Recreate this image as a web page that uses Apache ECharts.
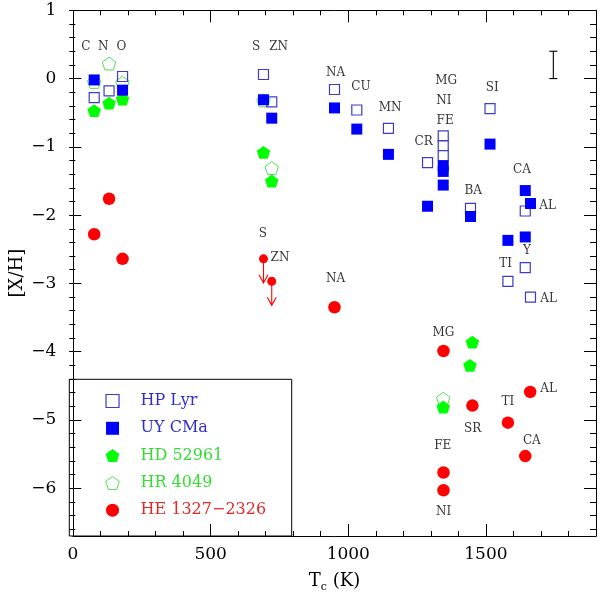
<!DOCTYPE html>
<html><head><meta charset="utf-8">
<script src="https://cdn.jsdelivr.net/npm/echarts@6/dist/echarts.min.js"></script>
<style>html,body{margin:0;padding:0;background:#fff}#c{width:600px;height:598px}</style>
</head><body><div id="c"></div>
<script>
// ---------------- data ----------------
// [Tc (K), [X/H]]
const hpLyr = [[77,-0.28],[131,-0.18],[180,0.03],[692,0.06],[722,-0.34],[950,-0.16],[1031,-0.46],[1146,-0.73],[1288,-1.23],[1345,-0.84],[1345,-0.98],[1345,-1.13],[1515,-0.44],[1444,-1.90],[1643,-1.94],[1662,-3.20],[1643,-2.77],[1580,-2.97]];
const uyCMa = [[77,-0.02],[180,-0.17],[692,-0.31],[722,-0.58],[950,-0.43],[1031,-0.74],[1146,-1.11],[1288,-1.87],[1345,-1.28],[1345,-1.36],[1345,-1.56],[1515,-0.96],[1444,-2.02],[1643,-1.64],[1662,-1.83],[1580,-2.37],[1643,-2.32]];
const hd52961 = [[77,-0.47],[131,-0.36],[180,-0.30],[692,-1.08],[722,-1.50],[1451,-3.86],[1442,-4.20],[1345,-4.81]];
const hr4049 = [[77,-0.05],[131,0.22],[180,-0.06],[692,-0.32],[722,-1.31],[1345,-4.69]];
const he1327 = [[77,-2.28],[131,-1.76],[180,-2.64],[950,-3.35],[1346,-3.99],[1451,-4.79],[1661,-4.59],[1580,-5.04],[1643,-5.53],[1346,-5.77],[1346,-6.03]];
const he1327Limits = [[692,-2.64],[722,-2.97]];   // upper limits (arrows)
const errorBar = [[1745,0.0,0.4]];               // [Tc, low, high]

const labelTexts = ['C','N','O','S','ZN','S','ZN','NA','CU','MN','MG','NI','FE','CR','SI','BA','CA','AL','Y','TI','AL','NA','MG','AL','TI','SR','CA','FE','NI'];
const labelTc    = [47,110,176,665,747,690,752,954,1046,1152,1356,1347,1352,1274,1523,1454,1631,1724,1649,1572,1728,954,1346,1728,1580,1452,1667,1343,1346];
const labelXH    = [0.47,0.47,0.47,0.47,0.47,-2.28,-2.63,0.08,-0.12,-0.43,-0.03,-0.33,-0.62,-0.93,-0.13,-1.64,-1.33,-1.86,-2.52,-2.72,-3.23,-2.93,-3.73,-4.54,-4.74,-5.13,-5.30,-5.38,-6.34];

const seriesNames = ['HP Lyr','UY CMa','HD 52961','HR 4049','HE 1327\u22122326'];
const xTickLabels = [0,500,1000,1500];
const yTickLabels = [1,0,-1,-2,-3,-4,-5,-6];

// ---------------- layout / style ----------------
const FONT = 'DejaVu Serif';
const W = 600, H = 598;
const G = {left:69.3, right:4, top:10.3, bottom:62};
const X_MIN = 0, X_MAX = 1900, Y_MIN = -6.7, Y_MAX = 1;
const pxPerY = (H - G.top - G.bottom) / (Y_MAX - Y_MIN);
function subGrid(yLow){ return {left:G.left, right:G.right, top:G.top, bottom:G.bottom + (yLow - Y_MIN)*pxPerY}; }

const SQUARE = 'path://M0,0L1,0L1,1L0,1Z';
const PENTA = 'path://M0,-1L0.951,-0.309L0.588,0.809L-0.588,0.809L-0.951,-0.309Z';
const BLUE = '#0000ff', OPENBLUE = '#3c3cc8', GREEN = '#00ff00', OPENGREEN = '#55dd55', RED = '#ff0000';

const minus = v => (v < 0 ? '\u2212' + Math.abs(v) : String(v));
const noSplit = {show:false};
const frameLine = {show:true, onZero:false, lineStyle:{color:'#000', width:1}};
const noLine = {show:false, onZero:false};

const xAxes = [
  {gridIndex:0, position:'bottom', type:'value', min:X_MIN, max:X_MAX, interval:100,
   axisLine:frameLine, axisTick:{show:true, inside:true, length:5, lineStyle:{color:'#000'}},
   axisLabel:{show:false}, splitLine:noSplit,
   name:'{t|T}{s|c}{t| (K)}', nameLocation:'middle', nameGap:33,
   nameTextStyle:{rich:{t:{fontFamily:FONT, fontSize:18, lineHeight:24, color:'#000'}, s:{fontFamily:FONT, fontSize:11, lineHeight:24, verticalAlign:'bottom', color:'#000'}}}},
  {gridIndex:0, position:'top', type:'value', min:X_MIN, max:X_MAX, interval:100,
   axisLine:frameLine, axisTick:{show:true, inside:true, length:5, lineStyle:{color:'#000'}},
   axisLabel:{show:false}, splitLine:noSplit},
  {gridIndex:0, position:'bottom', type:'value', min:X_MIN, max:X_MAX, interval:500,
   axisLine:noLine, axisTick:{show:true, inside:true, length:12, lineStyle:{color:'#000'}},
   axisLabel:{show:true, margin:10, showMaxLabel:false, fontFamily:FONT, fontSize:17, color:'#000',
     formatter: v => (xTickLabels.indexOf(v) >= 0 ? String(v) : '')}, splitLine:noSplit},
  {gridIndex:0, position:'top', type:'value', min:X_MIN, max:X_MAX, interval:500,
   axisLine:noLine, axisTick:{show:true, inside:true, length:12, lineStyle:{color:'#000'}},
   axisLabel:{show:false}, splitLine:noSplit},
  {gridIndex:1, type:'value', min:X_MIN, max:X_MAX, show:false, axisLine:noLine},
  {gridIndex:2, type:'value', min:X_MIN, max:X_MAX, show:false, axisLine:noLine}
];
const yAxes = [
  {gridIndex:0, position:'left', type:'value', min:Y_MIN, max:Y_MAX,
   axisLine:frameLine, axisTick:{show:false}, axisLabel:{show:false}, splitLine:noSplit,
   name:'[X/H]', nameLocation:'middle', nameGap:47, nameTextStyle:{fontFamily:FONT, fontSize:18, color:'#000'}},
  {gridIndex:0, position:'right', type:'value', min:Y_MIN, max:Y_MAX,
   axisLine:frameLine, axisTick:{show:false}, axisLabel:{show:false}, splitLine:noSplit},
  {gridIndex:1, position:'left', type:'value', min:-6.6, max:Y_MAX, interval:0.2,
   axisLine:noLine, axisTick:{show:true, inside:true, length:6, lineStyle:{color:'#000'}}, axisLabel:{show:false}, splitLine:noSplit},
  {gridIndex:1, position:'right', type:'value', min:-6.6, max:Y_MAX, interval:0.2,
   axisLine:noLine, axisTick:{show:true, inside:true, length:6, lineStyle:{color:'#000'}}, axisLabel:{show:false}, splitLine:noSplit},
  {gridIndex:2, position:'left', type:'value', min:-6, max:Y_MAX, interval:1,
   axisLine:noLine, axisTick:{show:true, inside:true, length:12, lineStyle:{color:'#000'}},
   axisLabel:{show:true, margin:13, fontFamily:FONT, fontSize:17, color:'#000',
     formatter: v => (yTickLabels.indexOf(Math.round(v)) >= 0 ? minus(Math.round(v)) : '')}, splitLine:noSplit},
  {gridIndex:2, position:'right', type:'value', min:-6, max:Y_MAX, interval:1,
   axisLine:noLine, axisTick:{show:true, inside:true, length:12, lineStyle:{color:'#000'}}, axisLabel:{show:false}, splitLine:noSplit}
];

const base = {type:'scatter', xAxisIndex:0, yAxisIndex:0, symbolKeepAspect:true, emphasis:{disabled:true}};

const series = [
  Object.assign({}, base, {name:seriesNames[3], data:hr4049, symbol:PENTA, symbolSize:13.5,
    itemStyle:{color:'rgba(0,0,0,0)', borderColor:OPENGREEN, borderWidth:1, opacity:1}}),
  Object.assign({}, base, {name:seriesNames[2], data:hd52961, symbol:PENTA, symbolSize:13.5,
    itemStyle:{color:GREEN, opacity:1}}),
  Object.assign({}, base, {name:seriesNames[0], data:hpLyr, symbol:SQUARE, symbolSize:10,
    itemStyle:{color:'rgba(0,0,0,0)', borderColor:OPENBLUE, borderWidth:1.2, opacity:1}}),
  Object.assign({}, base, {name:seriesNames[1], data:uyCMa, symbol:SQUARE, symbolSize:11,
    itemStyle:{color:BLUE, opacity:1}}),
  {type:'custom', name:'limits-arrows', xAxisIndex:0, yAxisIndex:0, data:he1327Limits, silent:true,
    renderItem:(params, api) => {
      const p = api.coord([api.value(0), api.value(1)]);
      const L = 24, hw = 4.5, hl = 8;
      return {type:'group', children:[
        {type:'line', shape:{x1:p[0], y1:p[1], x2:p[0], y2:p[1]+L}, style:{stroke:RED, lineWidth:1.1}},
        {type:'polyline', shape:{points:[[p[0]-hw, p[1]+L-hl],[p[0], p[1]+L],[p[0]+hw, p[1]+L-hl]]}, style:{stroke:RED, lineWidth:1.1, fill:null}}
      ]};
    }},
  Object.assign({}, base, {name:seriesNames[4], data:he1327, symbol:'circle', symbolSize:12.5,
    itemStyle:{color:RED, opacity:1}}),
  Object.assign({}, base, {name:'HE limits', data:he1327Limits, symbol:'circle', symbolSize:9,
    itemStyle:{color:RED, opacity:1}}),
  {type:'custom', name:'error-bar', xAxisIndex:0, yAxisIndex:0, data:errorBar, silent:true,
    renderItem:(params, api) => {
      const lo = api.coord([api.value(0), api.value(1)]);
      const hi = api.coord([api.value(0), api.value(2)]);
      const c = 4;
      const st = {stroke:'#000', lineWidth:1.1};
      return {type:'group', children:[
        {type:'line', shape:{x1:lo[0], y1:lo[1], x2:hi[0], y2:hi[1]}, style:st},
        {type:'line', shape:{x1:lo[0]-c, y1:lo[1], x2:lo[0]+c, y2:lo[1]}, style:st},
        {type:'line', shape:{x1:hi[0]-c, y1:hi[1], x2:hi[0]+c, y2:hi[1]}, style:st}
      ]};
    }},
  Object.assign({}, base, {name:'element-labels', symbol:'circle', symbolSize:1, itemStyle:{color:'rgba(0,0,0,0)'}, silent:true,
    data: labelTexts.map((t,i) => ({name:t, value:[labelTc[i], labelXH[i]]})),
    label:{show:true, position:'inside', formatter:'{b}', fontFamily:FONT, fontSize:12, color:'#000'}})
];

const option = {
  animation:false,
  backgroundColor:'#fff',
  grid:[G, subGrid(-6.6), subGrid(-6)],
  xAxis:xAxes,
  yAxis:yAxes,
  legend:{
    orient:'vertical', left:105.2, top:393, padding:0, itemGap:11.3, itemWidth:46, itemHeight:13,
    selectedMode:false, symbolKeepAspect:true,
    textStyle:{fontFamily:FONT, fontSize:16, lineHeight:16},
    data:[
      {name:seriesNames[0], icon:SQUARE, itemStyle:{borderWidth:1.2}, textStyle:{color:'#3030c8'}},
      {name:seriesNames[1], icon:SQUARE, textStyle:{color:'#3030c8'}},
      {name:seriesNames[2], icon:PENTA, textStyle:{color:'#33dd33'}},
      {name:seriesNames[3], icon:PENTA, itemStyle:{borderWidth:1}, textStyle:{color:'#33dd33'}},
      {name:seriesNames[4], icon:'circle', textStyle:{color:'#e02828'}}
    ]
  },
  graphic:[{type:'rect', shape:{x:G.left, y:379.3, width:291.7-G.left, height:(H-G.bottom)-379.3},
    style:{fill:null, stroke:'#000', lineWidth:1}, silent:true, z:10}],
  series:series
};

const chart = echarts.init(document.getElementById('c'), null, {renderer:'canvas'});
chart.setOption(option);
</script>
</body></html>
